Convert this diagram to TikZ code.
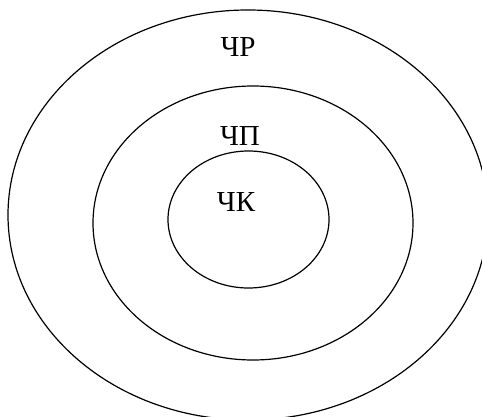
\documentclass[tikz,border=0pt]{standalone}
\usepackage{fontspec}
\setmainfont{Liberation Serif}

\begin{document}
\begin{tikzpicture}[x=1pt, y=1pt, line width=1.2pt]
  \useasboundingbox (0,0) rectangle (482,416);
  \tikzset{lbl/.style={font=\fontsize{29}{33}\selectfont, inner sep=0pt}}
  \draw (248,201) ellipse [x radius=240, y radius=205];
  \draw (253,193) ellipse [x radius=160, y radius=137];
  \draw (248.5,196.5) ellipse [x radius=80.5, y radius=68.5];
  \node[lbl] (chr) at (238,369) {ЧР};
  \node[lbl] (chp) at (240,280) {ЧП};
  \node[lbl] (chk) at (236,214) {ЧК};
\end{tikzpicture}
\end{document}
